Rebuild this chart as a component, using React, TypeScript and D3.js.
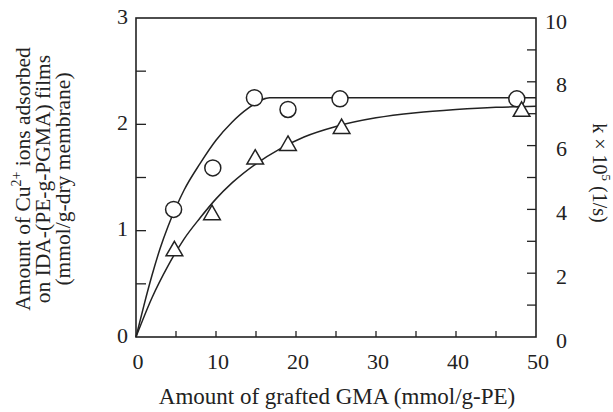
import React from "react";
import * as d3 from "d3";

// Measured data (x = amount of grafted GMA, mmol/g-PE)
const circleX = [4.7, 9.6, 14.8, 19.0, 25.5, 47.6];
const circleY = [1.2, 1.59, 2.25, 2.14, 2.24, 2.24]; // left axis (mmol/g)

const triangleX = [4.8, 9.5, 14.9, 19.0, 25.7, 48.2];
const triangleK = [2.7, 3.83, 5.57, 6.0, 6.53, 7.07]; // right axis (k×10^5)

// Fitted curves
const upperCurveX = [0, 1, 2, 3, 4, 5, 6, 8, 10, 12, 14, 16.7, 50];
const upperCurveY = [0, 0.3, 0.58, 0.83, 1.04, 1.22, 1.38, 1.63, 1.85, 2.02, 2.15, 2.25, 2.25];

const lowerCurveX = [0, 2, 4, 6, 8, 10, 12, 15, 18, 21, 25, 30, 35, 40, 45, 50];
const lowerCurveK = [0, 1.23, 2.23, 3.07, 3.73, 4.33, 4.83, 5.43, 5.9, 6.27, 6.6, 6.87, 7.03, 7.13, 7.2, 7.23];

const xTickLabels = [0, 10, 20, 30, 40, 50];
const leftTickLabels = [0, 1, 2, 3];
const rightTickLabels = [0, 2, 4, 6, 8, 10];

const W = 613;
const H = 412;
const L = 136;
const T = 18;
const R = 536;
const B = 337;

export default function App() {
  const x = d3.scaleLinear().domain([0, 50]).range([L, R]);
  const yL = d3.scaleLinear().domain([0, 3]).range([B, T]);
  const yR = d3.scaleLinear().domain([0, 10]).range([B, T]);

  const lineL = d3
    .line<[number, number]>()
    .x((d) => x(d[0]))
    .y((d) => yL(d[1]))
    .curve(d3.curveMonotoneX);
  const lineR = d3
    .line<[number, number]>()
    .x((d) => x(d[0]))
    .y((d) => yR(d[1]))
    .curve(d3.curveMonotoneX);

  const upper = upperCurveX.map((v, i) => [v, upperCurveY[i]] as [number, number]);
  const lower = lowerCurveX.map((v, i) => [v, lowerCurveK[i]] as [number, number]);

  const tri = d3.symbol().type(d3.symbolTriangle).size(120)();

  const font = "'Liberation Serif', 'Times New Roman', serif";
  const xMinor = d3.range(5, 50, 5);
  const lMinor = d3.range(0.5, 3, 0.5);
  const rMinor = d3.range(1, 10, 1);

  return (
    <svg
      width={W}
      height={H}
      style={{ position: "absolute", left: 0, top: 0, background: "#fff" }}
      fontFamily={font}
    >
      <rect x={0} y={0} width={W} height={H} fill="#fff" />
      {/* ticks */}
      <g stroke="#222" strokeWidth={1.3}>
        {xMinor.map((t) => (
          <line key={"bx" + t} x1={x(t)} x2={x(t)} y1={B} y2={B - 6} />
        ))}
        {lMinor.map((t) => (
          <line key={"ly" + t} x1={L} x2={L + 10} y1={yL(t)} y2={yL(t)} />
        ))}
        {rMinor.map((t) => (
          <line key={"ry" + t} x1={R} x2={R - 9} y1={yR(t)} y2={yR(t)} />
        ))}
      </g>
      {/* frame */}
      <rect x={L} y={T} width={R - L} height={B - T} fill="none" stroke="#222" strokeWidth={1.6} />

      {/* curves */}
      <path d={lineL(upper) || ""} fill="none" stroke="#222" strokeWidth={1.5} />
      <path d={lineR(lower) || ""} fill="none" stroke="#222" strokeWidth={1.5} />

      {/* markers */}
      {circleX.map((v, i) => (
        <circle key={"c" + i} cx={x(v)} cy={yL(circleY[i])} r={8} fill="#fff" stroke="#222" strokeWidth={1.5} />
      ))}
      {triangleX.map((v, i) => (
        <path
          key={"t" + i}
          d={tri || ""}
          transform={`translate(${x(v)},${yR(triangleK[i])})`}
          fill="#fff"
          stroke="#222"
          strokeWidth={1.5}
        />
      ))}

      {/* tick labels */}
      <g fontSize={22} fill="#222">
        {xTickLabels.map((t) => (
          <text key={"xl" + t} x={x(t) + 2} y={369} textAnchor="middle">
            {t}
          </text>
        ))}
        {leftTickLabels.map((t) => (
          <text key={"ll" + t} x={128} y={yL(t) - 2} textAnchor="end" dominantBaseline="central">
            {t}
          </text>
        ))}
        {rightTickLabels.map((t) => (
          <text key={"rl" + t} x={567} y={yR(t) + 3} textAnchor="end" dominantBaseline="central">
            {t}
          </text>
        ))}
      </g>

      {/* axis titles */}
      <text x={337} y={404} textAnchor="middle" fontSize={23} fill="#222">
        Amount of grafted GMA (mmol/g-PE)
      </text>
      <g fontSize={21.5} fill="#222" textAnchor="middle">
        <text transform={`translate(23,179) rotate(-90)`} dominantBaseline="central">
          Amount of Cu<tspan dy={-7} fontSize={14}>2+</tspan>
          <tspan dy={7}> ions adsorbed</tspan>
        </text>
        <text transform={`translate(43,179) rotate(-90)`} dominantBaseline="central">
          on IDA-(PE-g-PGMA) films
        </text>
        <text transform={`translate(63,179) rotate(-90)`} dominantBaseline="central">
          (mmol/g-dry membrane)
        </text>
      </g>
      <text
        transform={`translate(600,173) rotate(90)`}
        dominantBaseline="central"
        textAnchor="middle"
        fontSize={20}
        fill="#222"
      >
        k × 10<tspan dy={-7} fontSize={13}>5</tspan>
        <tspan dy={7}> (1/s)</tspan>
      </text>
    </svg>
  );
}
